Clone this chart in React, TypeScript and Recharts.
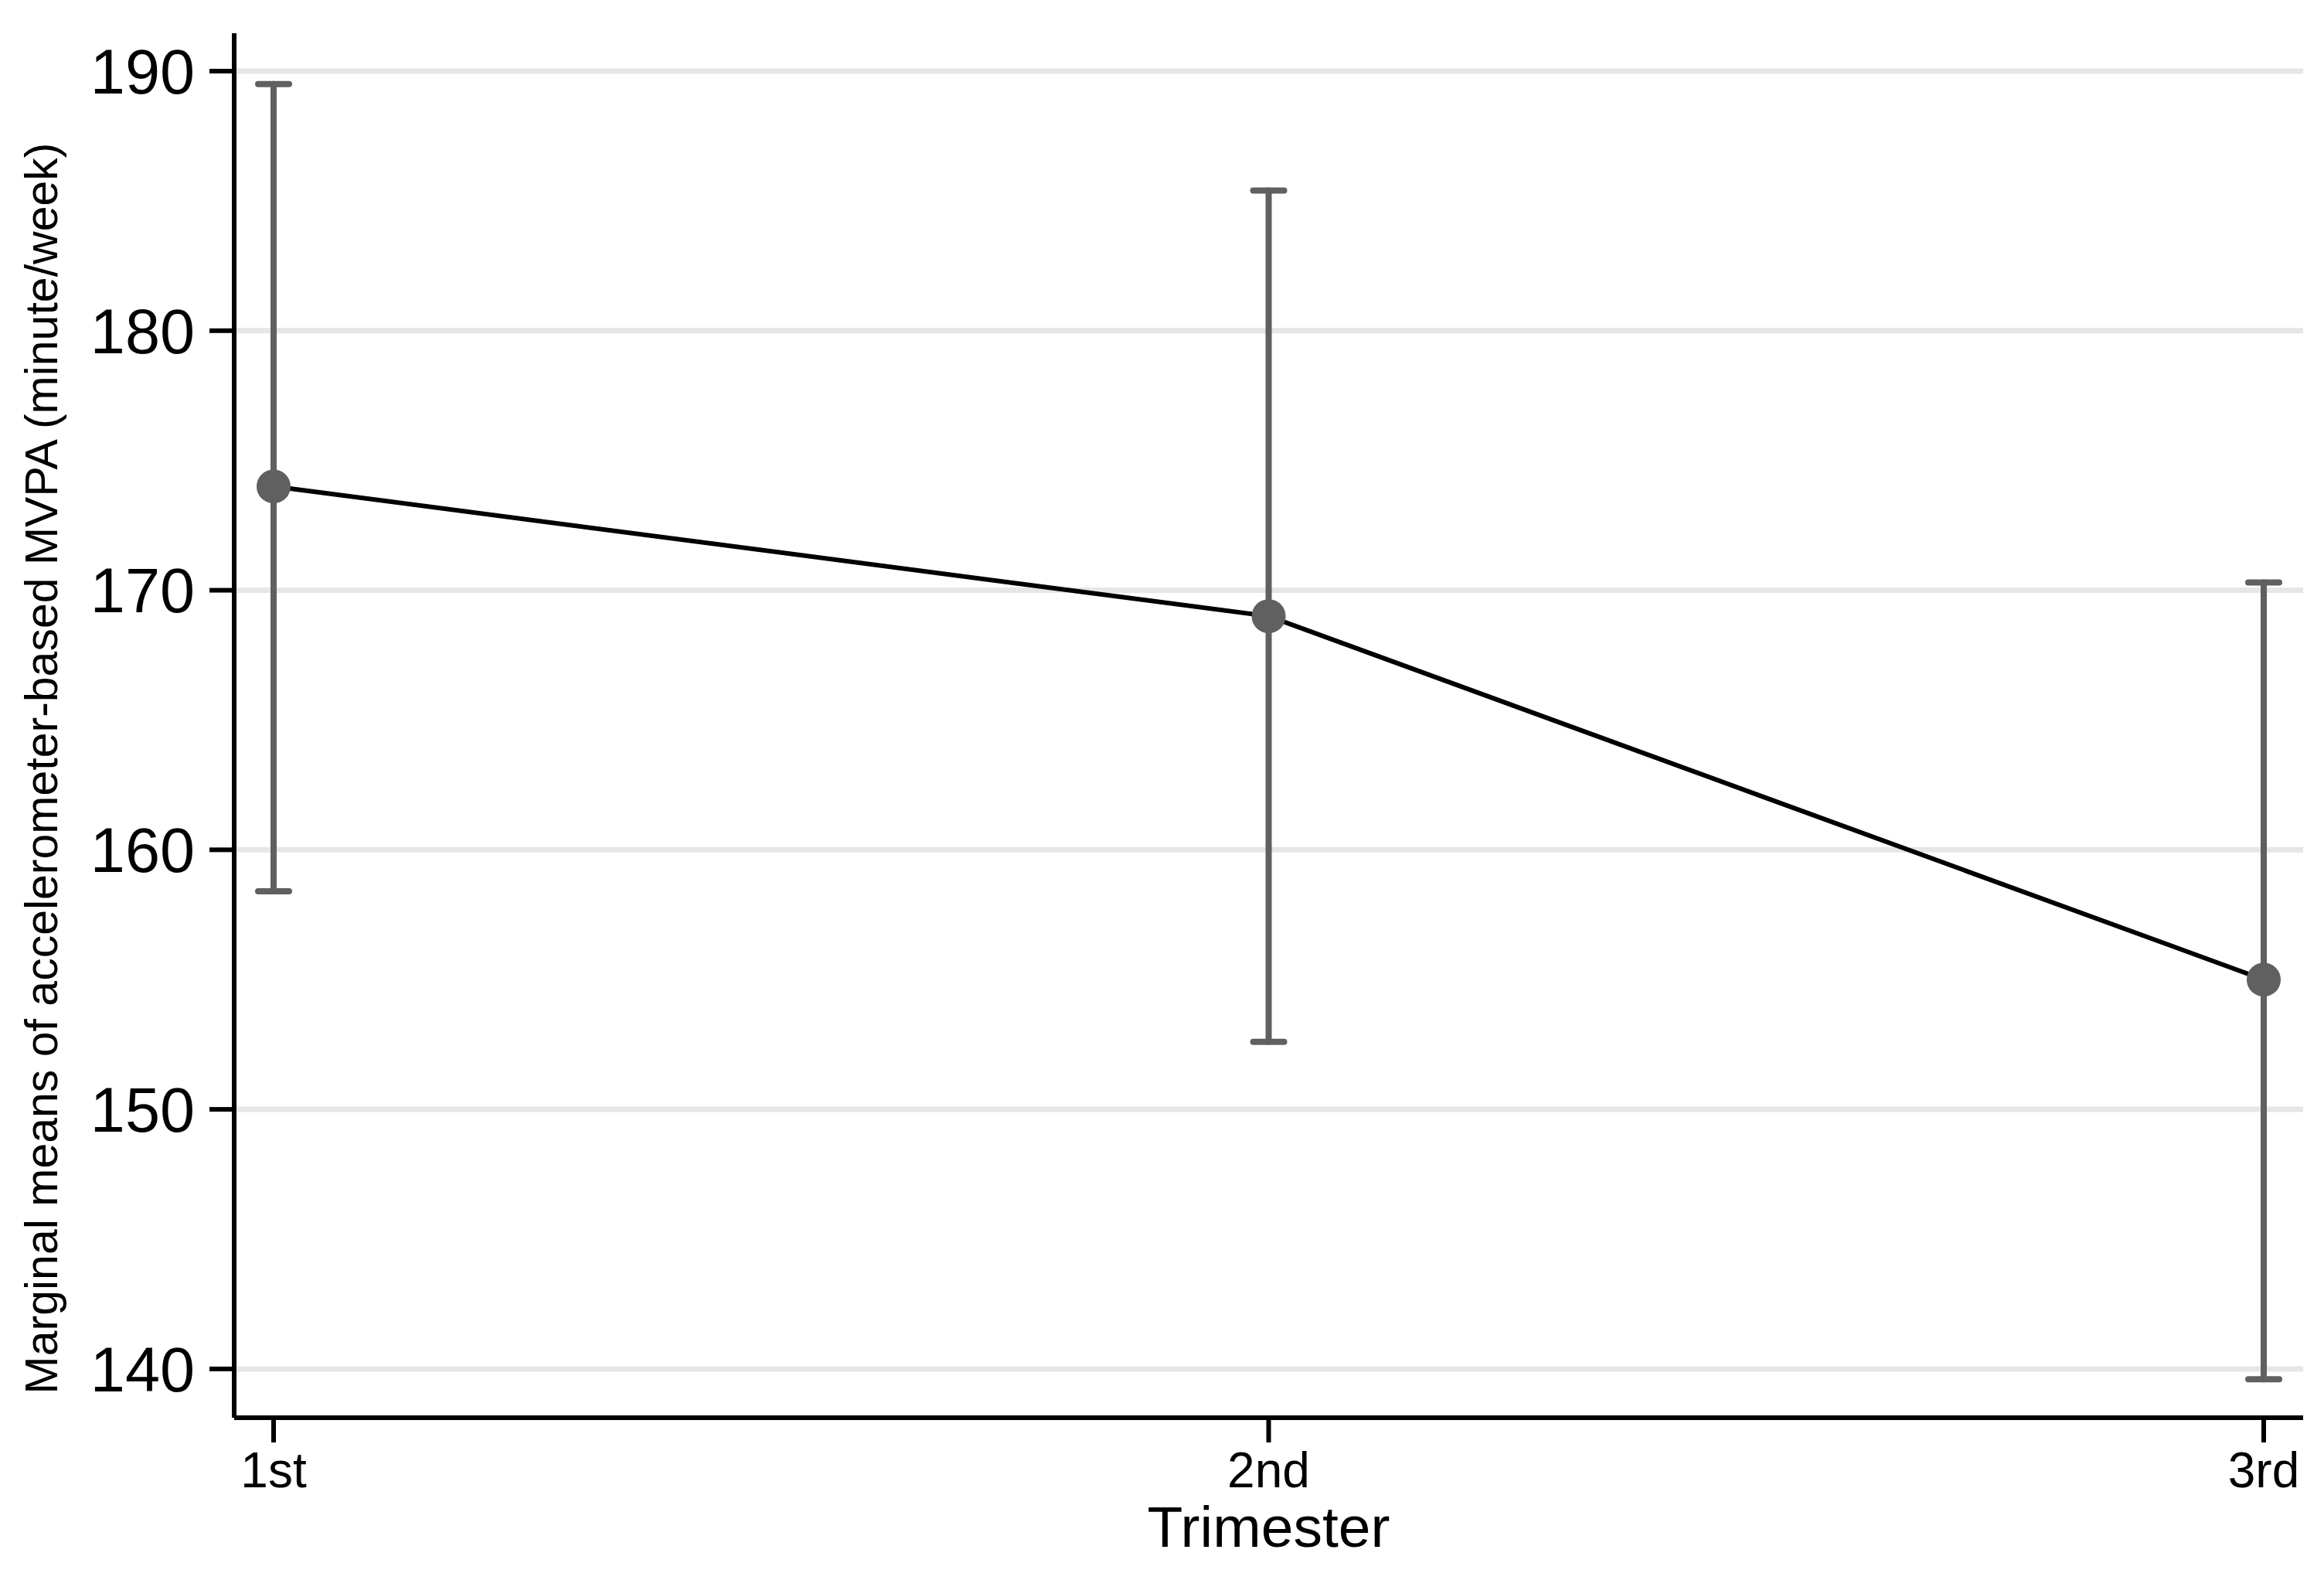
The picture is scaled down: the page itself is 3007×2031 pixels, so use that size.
import { LineChart, Line, XAxis, YAxis, CartesianGrid, ErrorBar, Label } from 'recharts';

// Marginal means by trimester with 95% CI
const trimesters = ['1st', '2nd', '3rd'];
const means = [174, 169, 155];
const lower = [158.4, 152.6, 139.6];
const upper = [189.5, 185.4, 170.3];
const yTicks = [140, 150, 160, 170, 180, 190];

const data = trimesters.map((t, i) => ({
    trimester: t,
    mean: means[i],
    ci: [means[i] - lower[i], upper[i] - means[i]],
}));

const FONT = '"Liberation Sans", Arial, sans-serif';
const GREY = '#606060';

const YTitle = () => (
    <text
        x={74}
        y={994}
        transform="rotate(-90 74 994)"
        textAnchor="middle"
        fontFamily={FONT}
        fontSize={59}
        fill="#000"
    >
        Marginal means of accelerometer-based MVPA (minute/week)
    </text>
);

const XTitle = ({ viewBox }: any) => (
    <text
        x={viewBox.x + viewBox.width / 2}
        y={viewBox.y + 167}
        textAnchor="middle"
        fontFamily={FONT}
        fontSize={75}
        fill="#000"
    >
        Trimester
    </text>
);

export default function App() {
    return (
        <div style={{ position: 'absolute', left: 0, top: 0, width: 3007, height: 2031, background: '#fff' }}>
            <LineChart
                width={3007}
                height={2031}
                data={data}
                margin={{ top: 43, right: 27, bottom: 0, left: 0 }}
            >
                {/* grid only at the labelled ticks, no edge lines */}
                <CartesianGrid vertical={false} syncWithTicks stroke="#e6e6e6" strokeWidth={7} />
                <XAxis
                    dataKey="trimester"
                    height={197}
                    padding={{ left: 51, right: 51 }}
                    axisLine={{ stroke: '#000', strokeWidth: 6 }}
                    tickLine={{ stroke: '#000', strokeWidth: 6 }}
                    tickSize={32}
                    tickMargin={13}
                    tick={{ fill: '#000', fontSize: 64, fontFamily: FONT }}
                >
                    <Label content={XTitle} />
                </XAxis>
                <YAxis
                    width={303}
                    type="number"
                    domain={[138.12, 191.46]}
                    ticks={yTicks}
                    interval={0}
                    axisLine={{ stroke: '#000', strokeWidth: 6 }}
                    tickLine={{ stroke: '#000', strokeWidth: 6 }}
                    tickSize={32}
                    tickMargin={19}
                    tick={{ fill: '#000', fontSize: 81, fontFamily: FONT }}
                >
                    <Label content={YTitle} />
                </YAxis>
                <Line
                    dataKey="mean"
                    type="linear"
                    stroke="#000"
                    strokeWidth={6}
                    isAnimationActive={false}
                    activeDot={false}
                    dot={(p: any) => <circle key={p.index} cx={p.cx} cy={p.cy} r={22} fill={GREY} />}
                >
                    <ErrorBar
                        dataKey="ci"
                        direction="y"
                        width={20}
                        stroke={GREY}
                        strokeWidth={8}
                        strokeLinecap="round"
                        isAnimationActive={false}
                    />
                </Line>
            </LineChart>
        </div>
    );
}
